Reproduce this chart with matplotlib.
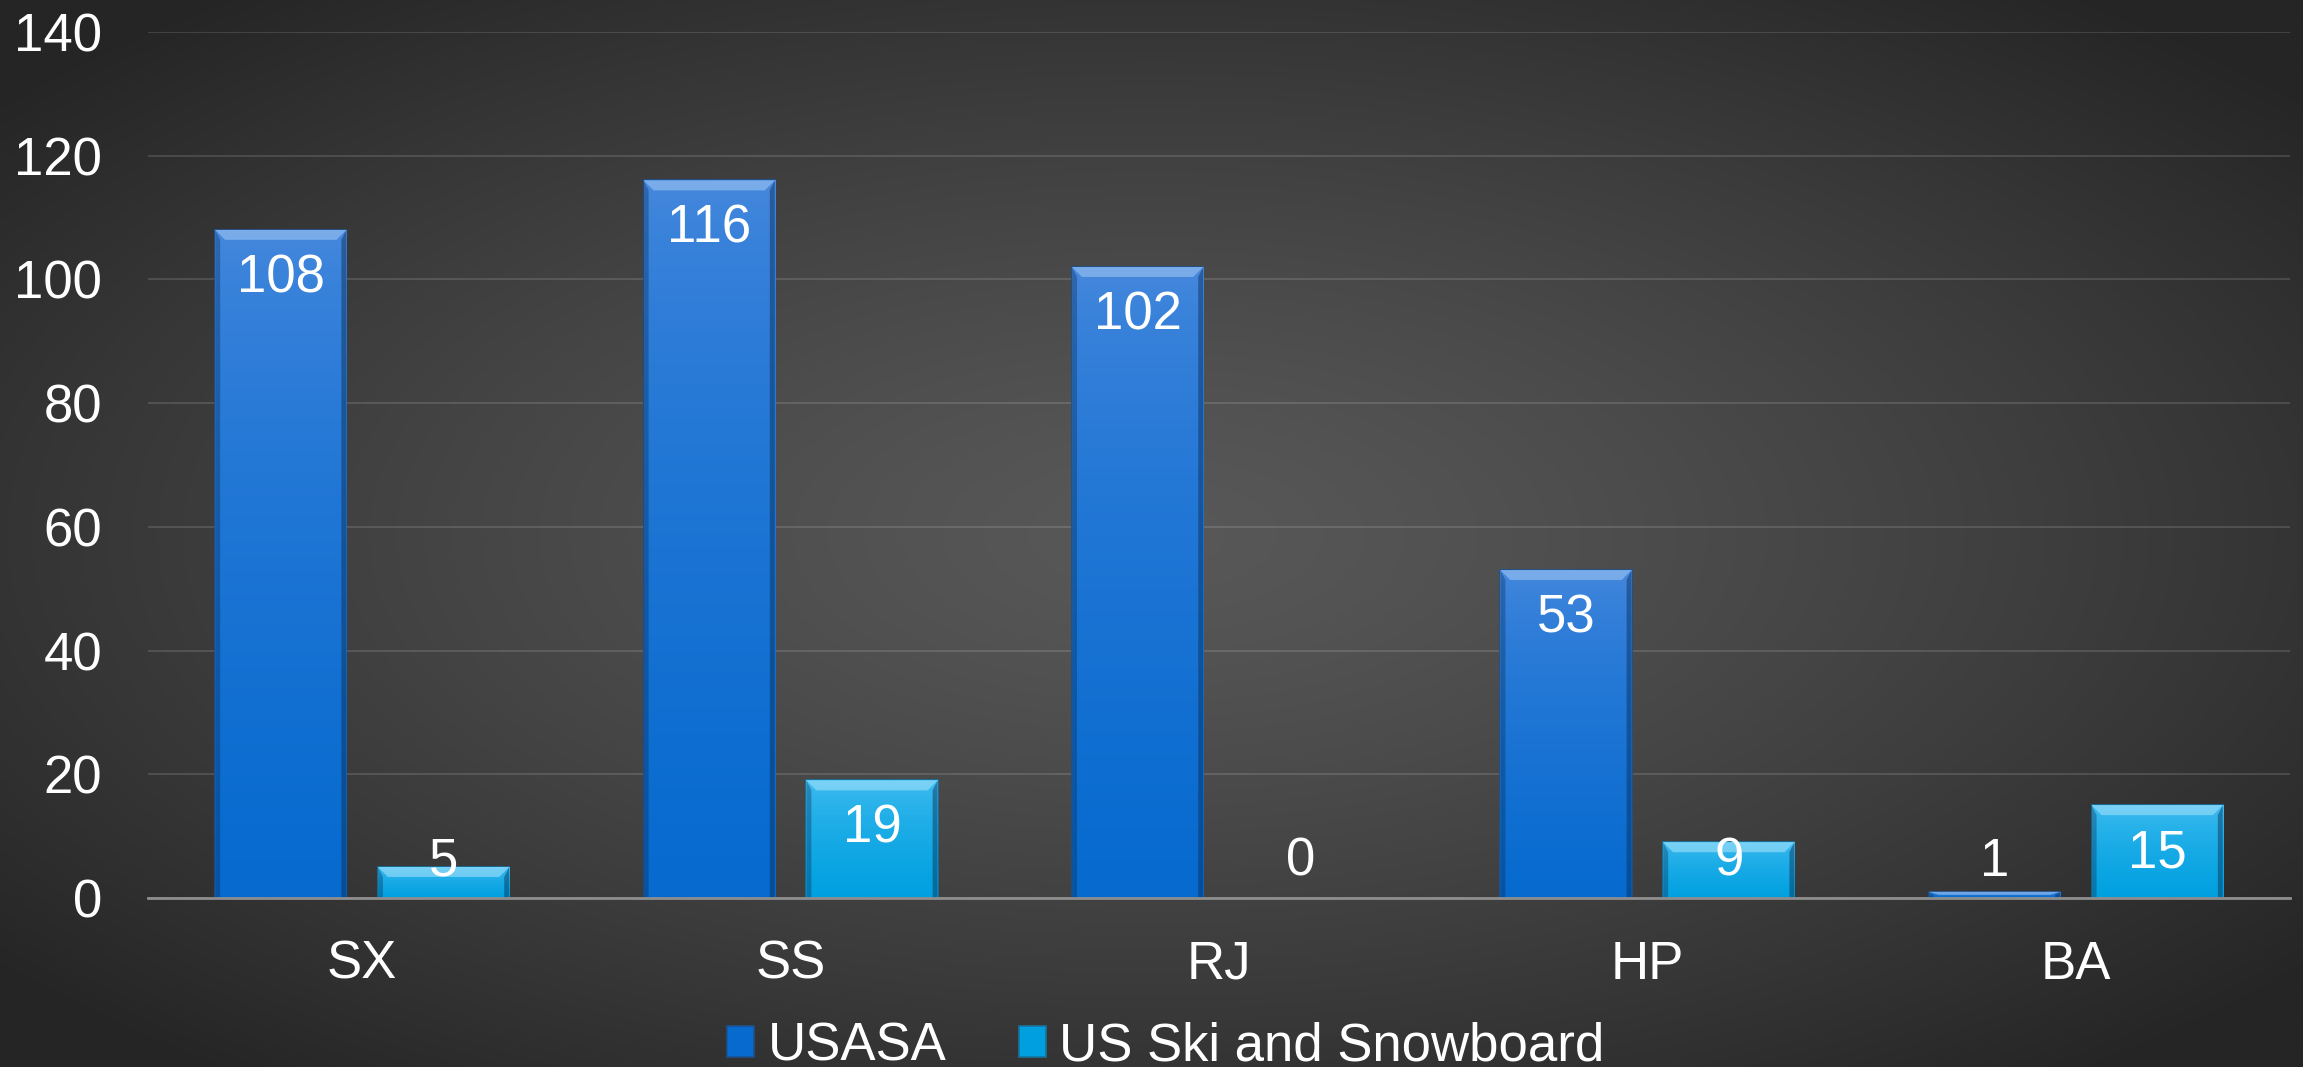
import numpy as np
import matplotlib
matplotlib.use("Agg")
import matplotlib.pyplot as plt
from matplotlib.patches import Patch, Polygon
from matplotlib.colors import to_rgb

plt.rcParams["font.family"] = ["Liberation Sans", "DejaVu Sans"]

CATEGORIES = ["SX", "SS", "RJ", "HP", "BA"]
SERIES = ["USASA", "US Ski and Snowboard"]
USASA = [108, 116, 102, 53, 1]
US_SKI = [5, 19, 0, 9, 15]
Y_TICKS = [0, 20, 40, 60, 80, 100, 120, 140]

# top colour, bottom colour, edge colour, bevel colour
STYLES = [
    ("#4a8ade", "#066acf", "#1c5290", "#9cc4f2"),
    ("#48c0f2", "#00a0e0", "#17739e", "#a0e0fa"),
]
FONT = 38


def radial_background(fig):
    bg = fig.add_axes([0, 0, 1, 1], zorder=-10)
    h, w = 300, 640
    yy, xx = np.mgrid[0:h, 0:w]
    r = np.sqrt(((xx - w / 2) / (w / 2)) ** 2 + ((yy - h / 2) / (h / 2)) ** 2)
    r = np.clip(r / 1.3, 0, 1) ** 1.3
    inner = np.array(to_rgb("#585858"))
    outer = np.array(to_rgb("#252525"))
    img = inner[None, None, :] * (1 - r[..., None]) + outer[None, None, :] * r[..., None]
    bg.imshow(img, aspect="auto", extent=(0, 1, 0, 1), interpolation="bilinear")
    bg.set_axis_off()


def shade_bars(ax, bars, style):
    top_c, bot_c, edge_c, bevel_c = style
    top_rgb = np.array(to_rgb(top_c))
    bot_rgb = np.array(to_rgb(bot_c))
    # bevel size in data units, ~10 px
    bx = 0.023
    by_full = 1.6
    for bar in bars:
        x0, w, hgt = bar.get_x(), bar.get_width(), bar.get_height()
        if hgt <= 0:
            bar.set_visible(False)
            continue
        t = np.linspace(0, 1, 200) ** 0.55
        grad = top_rgb[None, :] * (1 - t[:, None]) + bot_rgb[None, :] * t[:, None]
        im = ax.imshow(grad[:, None, :], aspect="auto", extent=(x0, x0 + w, 0, hgt),
                       interpolation="bilinear", zorder=2)
        im.set_clip_path(bar)
        bar.set_edgecolor(edge_c)
        bar.set_linewidth(1.2)
        by = min(by_full, hgt / 2)
        top = hgt
        ax.add_patch(Polygon([(x0, top), (x0 + w, top), (x0 + w - bx, top - by), (x0 + bx, top - by)],
                             closed=True, facecolor=bevel_c, alpha=0.6, edgecolor="none", zorder=3))
        ax.add_patch(Polygon([(x0, top), (x0 + bx * 0.5, top - by), (x0 + bx * 0.5, 0), (x0, 0)],
                             closed=True, facecolor="#0a2a50", alpha=0.35, edgecolor="none", zorder=3))
        ax.add_patch(Polygon([(x0 + w, top), (x0 + w - bx * 0.5, top - by), (x0 + w - bx * 0.5, 0), (x0 + w, 0)],
                             closed=True, facecolor="#0a2a50", alpha=0.45, edgecolor="none", zorder=3))


fig = plt.figure(figsize=(23.03, 10.67), dpi=100)
radial_background(fig)

ax = fig.add_axes([148 / 2303, 169 / 1067, (2290 - 148) / 2303, (898 - 32) / 1067])
ax.set_facecolor("none")

x = np.arange(len(CATEGORIES))
width = 0.306
offset = 0.19
all_values = [USASA, US_SKI]
for i, (vals, style) in enumerate(zip(all_values, STYLES)):
    pos = x + (i * 2 - 1) * offset
    bars = ax.bar(pos, vals, width, color=style[1], zorder=2)
    shade_bars(ax, bars, style)
    for px, v in zip(pos, vals):
        # label sits inside the bar top, but never lower than a minimum height
        ax.text(px, max(v - 3.8, 9.9), str(v), ha="center", va="top",
                color="white", fontsize=FONT, zorder=5)

ax.set_xlim(-0.5, len(CATEGORIES) - 0.5)
ax.set_ylim(0, 140)
ax.set_yticks(Y_TICKS)
ax.set_xticks(x)
ax.set_xticklabels(CATEGORIES)
ax.tick_params(axis="y", length=0, pad=33, labelsize=FONT, labelcolor="white")
ax.tick_params(axis="x", length=0, pad=30, labelsize=FONT, labelcolor="white")
ax.grid(axis="y", color="white", alpha=0.13, linewidth=1.5, zorder=0)
ax.set_axisbelow(True)
for side in ["top", "right", "left"]:
    ax.spines[side].set_visible(False)
ax.spines["bottom"].set_color("#8e8e8e")
ax.spines["bottom"].set_linewidth(2)
ax.spines["bottom"].set_zorder(4)

handles = [Patch(facecolor=s[1], edgecolor=s[2], linewidth=1.2) for s in STYLES]
fig.legend(handles, SERIES, loc="upper center", bbox_to_anchor=(0.5063, 0.043),
           ncol=2, frameon=False, fontsize=FONT, labelcolor="white",
           handlelength=0.51, handleheight=0.51, handletextpad=0.26,
           columnspacing=1.36, borderpad=0, borderaxespad=0)

fig.savefig("out.png", dpi=100)
